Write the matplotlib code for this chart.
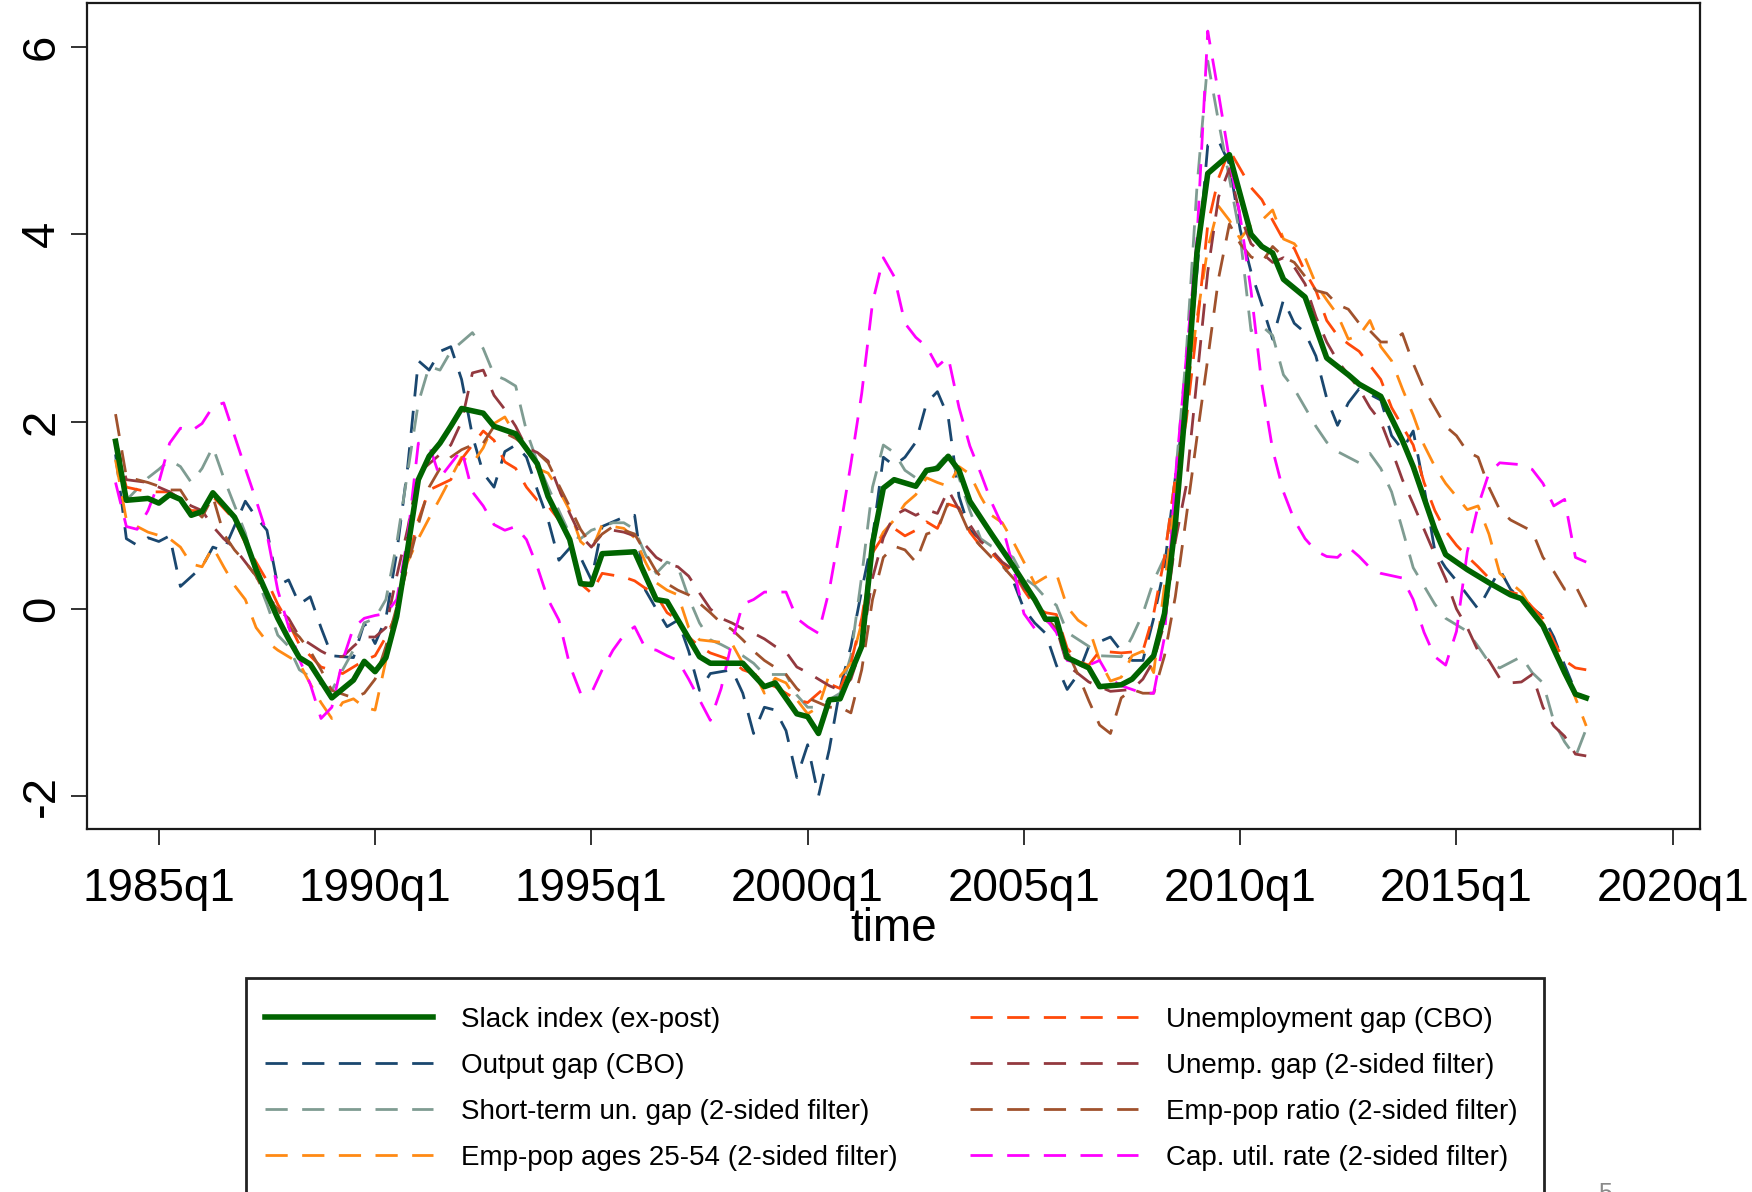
import matplotlib
matplotlib.use("Agg")
import matplotlib.pyplot as plt
from matplotlib.patches import Rectangle

plt.rcParams["font.family"] = ["Liberation Sans", "DejaVu Sans"]

# ── data (quarterly dates as fractional years) ──
slack_t = [1984.0, 1984.25, 1984.75, 1985.0, 1985.25, 1985.5, 1985.75, 1986.0, 1986.25, 1986.75,
           1987.0, 1987.25, 1987.75, 1988.0, 1988.25, 1988.5, 1989.0, 1989.5, 1989.75, 1990.0,
           1990.25, 1990.5, 1990.75, 1991.0, 1991.25, 1991.5, 1991.75, 1992.0, 1992.5, 1992.75,
           1993.25, 1993.75, 1994.0, 1994.5, 1994.75, 1995.0, 1995.25, 1996.0, 1996.5, 1996.75,
           1997.5, 1997.75, 1998.5, 1999.0, 1999.25, 1999.75, 2000.0, 2000.25, 2000.5, 2000.75,
           2001.25, 2001.5, 2001.75, 2002.0, 2002.5, 2002.75, 2003.0, 2003.25, 2003.5, 2003.75,
           2004.25, 2004.75, 2005.25, 2005.5, 2005.75, 2006.0, 2006.5, 2006.75, 2007.25, 2007.5,
           2008.0, 2008.25, 2008.5, 2008.75, 2009.0, 2009.25, 2009.75, 2010.25, 2010.5, 2010.75,
           2011.0, 2011.5, 2012.0, 2012.5, 2012.75, 2013.25, 2013.75, 2014.0, 2014.5, 2014.75,
           2015.25, 2015.75, 2016.25, 2016.5, 2017.0, 2017.5, 2017.75, 2018.0]
slack = [1.79, 1.16, 1.18, 1.13, 1.22, 1.17, 1.00, 1.04, 1.24, 0.98,
         0.74, 0.42, -0.10, -0.32, -0.52, -0.59, -0.95, -0.76, -0.56, -0.67,
         -0.52, -0.08, 0.63, 1.38, 1.63, 1.77, 1.95, 2.14, 2.09, 1.95,
         1.87, 1.55, 1.20, 0.74, 0.27, 0.26, 0.59, 0.61, 0.10, 0.08,
         -0.51, -0.58, -0.58, -0.83, -0.79, -1.12, -1.15, -1.33, -0.97, -0.96,
         -0.40, 0.70, 1.29, 1.38, 1.31, 1.48, 1.50, 1.63, 1.48, 1.15,
         0.80, 0.46, 0.10, -0.11, -0.11, -0.52, -0.63, -0.83, -0.81, -0.75,
         -0.50, -0.05, 0.90, 2.25, 3.80, 4.65, 4.85, 4.00, 3.87, 3.80,
         3.52, 3.33, 2.68, 2.50, 2.40, 2.27, 1.80, 1.52, 0.85, 0.58,
         0.42, 0.28, 0.15, 0.11, -0.18, -0.68, -0.91, -0.95]

outgap_t = [1984.0, 1984.25, 1984.5, 1984.75, 1985.0, 1985.25, 1985.5, 1986.0, 1986.25, 1986.5,
            1987.0, 1987.25, 1987.5, 1987.75, 1988.0, 1988.25, 1988.5, 1988.75, 1989.0, 1989.5,
            1989.75, 1990.0, 1990.25, 1990.5, 1990.75, 1991.0, 1991.25, 1991.5, 1991.75, 1992.0,
            1992.25, 1992.5, 1992.75, 1993.0, 1993.25, 1993.5, 1993.75, 1994.0, 1994.25, 1994.5,
            1994.75, 1995.0, 1995.25, 1995.75, 1996.0, 1996.25, 1996.5, 1996.75, 1997.0, 1997.25,
            1997.5, 1997.75, 1998.25, 1998.5, 1998.75, 1999.0, 1999.25, 1999.5, 1999.75, 2000.0,
            2000.25, 2000.5, 2000.75, 2001.0, 2001.25, 2001.5, 2001.75, 2002.0, 2002.25, 2002.5,
            2002.75, 2003.0, 2003.25, 2003.5, 2003.75, 2004.0, 2004.5, 2004.75, 2005.0, 2005.25,
            2005.5, 2005.75, 2006.0, 2006.25, 2006.5, 2006.75, 2007.0, 2007.25, 2007.5, 2007.75,
            2008.0, 2008.25, 2008.5, 2008.75, 2009.0, 2009.25, 2009.5, 2009.75, 2010.0, 2010.25,
            2010.5, 2010.75, 2011.0, 2011.25, 2011.5, 2011.75, 2012.0, 2012.25, 2012.5, 2012.75,
            2013.25, 2013.5, 2013.75, 2014.0, 2014.25, 2014.5, 2014.75, 2015.0, 2015.25, 2015.5,
            2016.0, 2016.25, 2016.5, 2017.0, 2017.25, 2017.5, 2017.75, 2018.0]
outgap = [1.65, 0.75, 0.68, 0.76, 0.72, 0.78, 0.24, 0.45, 0.66, 0.62,
          1.15, 0.98, 0.84, 0.25, 0.31, 0.05, 0.13, -0.20, -0.50, -0.52,
          -0.15, -0.37, -0.10, 0.60, 1.50, 2.65, 2.55, 2.75, 2.80, 2.45,
          1.85, 1.45, 1.30, 1.68, 1.75, 1.62, 1.27, 0.95, 0.52, 0.65,
          0.55, 0.31, 0.88, 0.98, 1.00, 0.20, 0.00, -0.19, -0.12, -0.45,
          -0.87, -0.69, -0.65, -0.90, -1.33, -1.05, -1.08, -1.30, -1.80, -1.45,
          -2.00, -1.50, -0.85, -0.40, 0.20, 0.76, 1.62, 1.53, 1.62, 1.78,
          2.20, 2.32, 2.05, 1.20, 0.84, 0.74, 0.48, 0.30, 0.00, -0.15,
          -0.26, -0.60, -0.86, -0.70, -0.40, -0.35, -0.30, -0.45, -0.55, -0.55,
          -0.10, 0.45, 1.40, 2.30, 3.60, 4.95, 5.00, 4.75, 4.05, 3.60,
          3.25, 2.88, 3.30, 3.05, 2.95, 2.70, 2.25, 1.96, 2.20, 2.35,
          2.23, 1.85, 1.70, 1.90, 1.30, 0.62, 0.44, 0.30, 0.15, 0.00,
          0.42, 0.21, 0.10, -0.08, -0.30, -0.60, -0.88, -0.96]

shortun_t = [1984.0, 1984.25, 1984.75, 1985.0, 1985.25, 1985.5, 1985.75, 1986.0, 1986.25, 1986.5,
             1987.0, 1987.25, 1987.5, 1987.75, 1988.0, 1988.25, 1988.75, 1989.0, 1989.25, 1989.5,
             1989.75, 1990.0, 1990.25, 1990.5, 1990.75, 1991.0, 1991.25, 1991.5, 1991.75, 1992.0,
             1992.25, 1992.5, 1992.75, 1993.0, 1993.25, 1993.5, 1993.75, 1994.0, 1994.25, 1994.5,
             1994.75, 1995.0, 1995.5, 1995.75, 1996.0, 1996.25, 1996.5, 1996.75, 1997.0, 1997.25,
             1997.5, 1997.75, 1998.0, 1998.25, 1998.5, 1998.75, 1999.0, 1999.5, 1999.75, 2000.0,
             2000.25, 2000.5, 2000.75, 2001.0, 2001.25, 2001.5, 2001.75, 2002.0, 2002.25, 2002.5,
             2002.75, 2003.0, 2003.25, 2003.5, 2003.75, 2004.0, 2004.25, 2004.5, 2004.75, 2005.0,
             2005.25, 2005.5, 2005.75, 2006.0, 2006.5, 2006.75, 2007.25, 2007.5, 2007.75, 2008.0,
             2008.25, 2008.5, 2008.75, 2009.0, 2009.25, 2009.5, 2009.75, 2010.0, 2010.25, 2010.5,
             2010.75, 2011.0, 2011.25, 2011.5, 2011.75, 2012.0, 2012.25, 2012.5, 2012.75, 2013.0,
             2013.25, 2013.5, 2013.75, 2014.0, 2014.5, 2014.75, 2015.25, 2015.5, 2015.75, 2016.0,
             2016.25, 2016.5, 2016.75, 2017.0, 2017.25, 2017.5, 2017.75, 2018.0]
shortun = [1.60, 1.16, 1.40, 1.49, 1.59, 1.52, 1.35, 1.50, 1.73, 1.40,
           0.81, 0.35, 0.05, -0.28, -0.40, -0.65, -0.80, -0.87, -0.65, -0.44,
           -0.15, -0.10, 0.10, 0.70, 1.45, 2.20, 2.59, 2.55, 2.75, 2.85,
           2.95, 2.78, 2.50, 2.45, 2.38, 1.90, 1.57, 1.30, 1.05, 0.80,
           0.75, 0.84, 0.92, 0.92, 0.85, 0.58, 0.38, 0.50, 0.45, 0.12,
           -0.15, -0.33, -0.38, -0.44, -0.50, -0.58, -0.70, -0.70, -0.92, -1.05,
           -1.05, -0.97, -0.90, -0.50, 0.35, 1.30, 1.75, 1.67, 1.48, 1.40,
           1.45, 1.53, 1.66, 1.40, 1.05, 0.75, 0.67, 0.62, 0.55, 0.33,
           0.25, 0.12, 0.04, -0.25, -0.40, -0.50, -0.51, -0.30, -0.05, 0.30,
           0.55, 1.40, 2.70, 4.50, 5.85, 5.20, 4.60, 3.98, 2.97, 3.02,
           2.92, 2.50, 2.35, 2.15, 1.95, 1.78, 1.68, 1.62, 1.56, 1.66,
           1.50, 1.25, 0.85, 0.44, 0.05, -0.10, -0.24, -0.40, -0.57, -0.63,
           -0.57, -0.51, -0.68, -0.79, -1.20, -1.42, -1.58, -1.28]

ep2554_t = [1984.0, 1984.25, 1984.5, 1984.75, 1985.25, 1985.5, 1985.75, 1986.0, 1986.25, 1986.5,
            1986.75, 1987.0, 1987.25, 1987.5, 1987.75, 1988.0, 1988.25, 1988.5, 1988.75, 1989.0,
            1989.25, 1989.5, 1989.75, 1990.0, 1990.25, 1990.5, 1990.75, 1991.0, 1991.25, 1991.5,
            1991.75, 1992.0, 1992.25, 1992.5, 1992.75, 1993.0, 1993.25, 1993.5, 1993.75, 1994.0,
            1994.25, 1994.5, 1994.75, 1995.0, 1995.25, 1995.5, 1995.75, 1996.0, 1996.25, 1996.5,
            1996.75, 1997.0, 1997.25, 1997.5, 1998.25, 1998.5, 1998.75, 1999.0, 1999.25, 1999.5,
            1999.75, 2000.0, 2000.25, 2000.5, 2000.75, 2001.0, 2001.25, 2001.5, 2001.75, 2002.0,
            2002.25, 2002.5, 2002.75, 2003.0, 2003.25, 2003.5, 2003.75, 2004.0, 2004.25, 2004.5,
            2004.75, 2005.0, 2005.25, 2005.5, 2005.75, 2006.0, 2006.25, 2006.5, 2006.75, 2007.0,
            2007.25, 2007.5, 2007.75, 2008.0, 2008.25, 2008.5, 2008.75, 2009.0, 2009.25, 2009.5,
            2009.75, 2010.0, 2010.25, 2010.5, 2010.75, 2011.0, 2011.25, 2011.5, 2011.75, 2012.0,
            2012.25, 2012.5, 2012.75, 2013.0, 2013.25, 2013.5, 2013.75, 2014.0, 2014.25, 2014.5,
            2014.75, 2015.0, 2015.25, 2015.5, 2015.75, 2016.0, 2016.25, 2016.5, 2016.75, 2017.0,
            2017.25, 2017.5, 2017.75, 2018.0]
ep2554 = [1.59, 0.95, 0.88, 0.82, 0.75, 0.66, 0.48, 0.45, 0.66, 0.45,
          0.25, 0.10, -0.20, -0.35, -0.44, -0.51, -0.58, -0.80, -1.00, -1.17,
          -1.00, -0.96, -1.05, -1.08, -0.55, 0.05, 0.50, 0.75, 0.97, 1.18,
          1.40, 1.62, 1.55, 1.72, 1.98, 2.05, 1.85, 1.72, 1.50, 1.45,
          1.27, 1.05, 0.72, 0.62, 0.90, 0.88, 0.86, 0.76, 0.50, 0.28,
          0.20, 0.15, -0.20, -0.33, -0.37, -0.58, -0.66, -0.90, -0.74, -0.79,
          -0.97, -1.12, -1.05, -0.70, -0.72, -0.58, -0.15, 0.60, 0.82, 0.95,
          1.12, 1.22, 1.40, 1.35, 1.31, 1.52, 1.44, 1.20, 1.00, 0.92,
          0.72, 0.50, 0.27, 0.34, 0.38, 0.02, -0.12, -0.20, -0.55, -0.77,
          -0.73, -0.50, -0.45, -0.68, 0.25, 1.20, 2.25, 3.10, 3.85, 4.30,
          4.15, 3.95, 4.10, 4.15, 4.26, 3.95, 3.90, 3.75, 3.47, 3.30,
          3.14, 2.88, 2.92, 3.08, 2.80, 2.65, 2.35, 2.07, 1.75, 1.52,
          1.34, 1.20, 1.06, 1.10, 0.80, 0.38, 0.28, 0.18, 0.00, -0.15,
          -0.40, -0.65, -0.95, -1.25]

unemp_cbo_t = [1984.0, 1984.25, 1984.75, 1985.25, 1985.75, 1986.0, 1986.25, 1986.75, 1987.0, 1987.5,
               1987.75, 1988.0, 1988.25, 1988.75, 1989.25, 1989.75, 1990.0, 1990.25, 1990.5, 1990.75,
               1991.0, 1991.25, 1991.75, 1992.0, 1992.25, 1992.5, 1992.75, 1993.0, 1993.25, 1993.5,
               1993.75, 1994.0, 1994.25, 1994.5, 1994.75, 1995.0, 1995.25, 1995.75, 1996.0, 1996.25,
               1996.5, 1996.75, 1997.0, 1997.25, 1997.5, 1997.75, 1998.25, 1998.5, 1998.75, 1999.0,
               1999.25, 1999.75, 2000.0, 2000.5, 2000.75, 2001.0, 2001.25, 2001.5, 2001.75, 2002.0,
               2002.25, 2002.5, 2002.75, 2003.0, 2003.25, 2003.5, 2003.75, 2004.0, 2004.25, 2004.5,
               2004.75, 2005.0, 2005.25, 2005.5, 2005.75, 2006.0, 2006.25, 2006.5, 2006.75, 2007.25,
               2007.75, 2008.0, 2008.25, 2008.5, 2008.75, 2009.0, 2009.25, 2009.5, 2009.75, 2010.0,
               2010.25, 2010.5, 2010.75, 2011.0, 2011.25, 2011.5, 2011.75, 2012.0, 2012.25, 2012.5,
               2012.75, 2013.0, 2013.25, 2013.5, 2013.75, 2014.0, 2014.25, 2014.5, 2014.75, 2015.0,
               2015.25, 2015.5, 2015.75, 2016.0, 2016.5, 2016.75, 2017.0, 2017.25, 2017.5, 2017.75,
               2018.0]
unemp_cbo = [1.75, 1.30, 1.25, 1.25, 1.05, 1.05, 1.20, 0.95, 0.70, 0.30,
             0.05, -0.15, -0.38, -0.62, -0.69, -0.55, -0.50, -0.30, -0.05, 0.50,
             0.95, 1.27, 1.38, 1.60, 1.75, 1.90, 1.80, 1.57, 1.50, 1.30,
             1.16, 1.10, 0.95, 0.75, 0.27, 0.17, 0.38, 0.34, 0.30, 0.22,
             0.15, -0.04, -0.12, -0.30, -0.40, -0.47, -0.55, -0.65, -0.69, -0.79,
             -0.83, -0.97, -1.00, -0.80, -0.85, -0.58, -0.10, 0.60, 0.78, 0.86,
             0.78, 0.84, 0.93, 0.86, 1.12, 1.08, 0.82, 0.67, 0.60, 0.48,
             0.40, 0.20, 0.03, -0.04, -0.06, -0.42, -0.56, -0.60, -0.45, -0.47,
             -0.45, -0.05, 0.55, 1.40, 2.00, 3.00, 4.10, 4.60, 4.90, 4.70,
             4.50, 4.37, 4.15, 3.94, 3.85, 3.60, 3.40, 3.08, 2.92, 2.83,
             2.75, 2.60, 2.45, 2.15, 1.95, 1.75, 1.35, 1.05, 0.83, 0.68,
             0.56, 0.45, 0.33, 0.21, 0.15, 0.02, -0.10, -0.35, -0.55, -0.63,
             -0.65]

unemp2_t = [1984.0, 1984.25, 1984.75, 1985.25, 1985.75, 1986.0, 1986.25, 1986.5, 1986.75, 1987.0,
            1987.25, 1987.5, 1987.75, 1988.0, 1988.25, 1988.75, 1989.0, 1989.25, 1989.5, 1989.75,
            1990.0, 1990.25, 1990.5, 1990.75, 1991.0, 1991.25, 1991.5, 1991.75, 1992.0, 1992.25,
            1992.5, 1992.75, 1993.0, 1993.25, 1993.5, 1993.75, 1994.0, 1994.25, 1994.5, 1994.75,
            1995.0, 1995.25, 1995.5, 1995.75, 1996.0, 1996.25, 1996.5, 1996.75, 1997.0, 1997.25,
            1997.5, 1997.75, 1998.0, 1998.25, 1998.5, 1998.75, 1999.0, 1999.25, 1999.5, 1999.75,
            2000.0, 2000.25, 2000.5, 2000.75, 2001.0, 2001.25, 2001.5, 2001.75, 2002.0, 2002.25,
            2002.5, 2002.75, 2003.0, 2003.25, 2003.5, 2003.75, 2004.0, 2004.25, 2004.5, 2004.75,
            2005.0, 2005.25, 2005.5, 2005.75, 2006.0, 2006.5, 2007.0, 2007.5, 2007.75, 2008.0,
            2008.25, 2008.5, 2008.75, 2009.0, 2009.25, 2009.5, 2009.75, 2010.0, 2010.25, 2010.5,
            2010.75, 2011.0, 2011.25, 2011.5, 2011.75, 2012.0, 2012.25, 2012.5, 2012.75, 2013.0,
            2013.25, 2013.5, 2013.75, 2014.0, 2014.25, 2014.5, 2014.75, 2015.0, 2015.25, 2015.5,
            2015.75, 2016.0, 2016.25, 2016.5, 2016.75, 2017.0, 2017.25, 2017.5, 2017.75, 2018.0]
unemp2 = [1.80, 1.38, 1.35, 1.25, 1.10, 1.05, 0.88, 0.75, 0.65, 0.50,
          0.35, 0.15, 0.00, -0.10, -0.30, -0.45, -0.51, -0.51, -0.40, -0.30,
          -0.30, -0.20, 0.35, 0.85, 1.45, 1.55, 1.65, 1.75, 2.00, 2.52,
          2.55, 2.28, 2.13, 1.95, 1.72, 1.67, 1.58, 1.28, 1.02, 0.78,
          0.66, 0.80, 0.84, 0.82, 0.78, 0.68, 0.55, 0.48, 0.45, 0.35,
          0.17, 0.00, -0.10, -0.15, -0.21, -0.26, -0.32, -0.40, -0.46, -0.62,
          -0.68, -0.75, -0.82, -0.87, -0.75, -0.40, 0.33, 0.76, 1.00, 1.06,
          1.00, 1.06, 1.02, 1.27, 1.06, 0.90, 0.72, 0.63, 0.50, 0.42,
          0.22, 0.13, -0.12, -0.20, -0.60, -0.78, -0.88, -0.86, -0.75, -0.55,
          -0.15, 0.72, 1.31, 2.45, 3.60, 4.40, 4.70, 4.20, 3.90, 3.80,
          3.70, 3.75, 3.65, 3.47, 3.12, 2.85, 2.65, 2.50, 2.35, 2.15,
          2.00, 1.70, 1.38, 1.12, 0.85, 0.58, 0.32, 0.00, -0.20, -0.45,
          -0.55, -0.74, -0.79, -0.78, -0.70, -1.05, -1.25, -1.36, -1.55, -1.57]

epratio_t = [1984.0, 1984.25, 1984.5, 1984.75, 1985.25, 1985.5, 1985.75, 1986.0, 1986.25, 1986.5,
             1986.75, 1987.0, 1987.25, 1987.5, 1987.75, 1988.0, 1988.25, 1988.5, 1988.75, 1989.0,
             1989.5, 1989.75, 1990.0, 1990.25, 1990.5, 1990.75, 1991.0, 1991.25, 1991.5, 1991.75,
             1992.0, 1992.25, 1992.5, 1992.75, 1993.0, 1993.25, 1993.5, 1993.75, 1994.0, 1994.25,
             1994.5, 1994.75, 1995.0, 1995.25, 1995.5, 1995.75, 1996.0, 1996.25, 1996.5, 1996.75,
             1997.0, 1997.25, 1997.5, 1997.75, 1998.0, 1998.25, 1998.5, 1998.75, 1999.0, 1999.5,
             1999.75, 2000.0, 2000.25, 2000.5, 2000.75, 2001.0, 2001.25, 2001.5, 2001.75, 2002.0,
             2002.25, 2002.5, 2002.75, 2003.0, 2003.25, 2003.5, 2003.75, 2004.0, 2004.25, 2004.5,
             2004.75, 2005.0, 2005.25, 2005.5, 2005.75, 2006.0, 2006.25, 2006.5, 2006.75, 2007.0,
             2007.25, 2007.5, 2007.75, 2008.0, 2008.25, 2008.5, 2008.75, 2009.0, 2009.25, 2009.5,
             2009.75, 2010.0, 2010.25, 2010.5, 2010.75, 2011.0, 2011.25, 2011.5, 2011.75, 2012.0,
             2012.25, 2012.5, 2012.75, 2013.0, 2013.25, 2013.5, 2013.75, 2014.0, 2014.25, 2014.5,
             2014.75, 2015.0, 2015.25, 2015.5, 2015.75, 2016.0, 2016.25, 2016.5, 2016.75, 2017.0,
             2017.25, 2017.5, 2017.75, 2018.0]
epratio = [2.08, 1.41, 1.38, 1.35, 1.27, 1.27, 1.09, 0.98, 1.20, 0.80,
           0.63, 0.50, 0.35, 0.12, 0.00, -0.19, -0.30, -0.45, -0.65, -0.87,
           -0.95, -0.90, -0.75, -0.40, 0.02, 0.45, 0.90, 1.30, 1.50, 1.62,
           1.70, 1.75, 1.77, 1.95, 1.88, 1.82, 1.73, 1.67, 1.56, 1.32,
           1.09, 0.85, 0.68, 0.80, 0.88, 0.84, 0.80, 0.60, 0.40, 0.27,
           0.20, 0.15, 0.06, -0.04, -0.15, -0.22, -0.33, -0.45, -0.55, -0.70,
           -0.85, -0.95, -1.00, -1.05, -1.05, -1.11, -0.65, 0.10, 0.55, 0.67,
           0.63, 0.50, 0.80, 0.84, 1.14, 1.06, 0.80, 0.67, 0.55, 0.46,
           0.33, 0.20, 0.09, -0.09, -0.21, -0.45, -0.70, -0.98, -1.24, -1.33,
           -0.95, -0.86, -0.90, -0.90, -0.50, 0.13, 0.97, 1.83, 2.67, 3.53,
           4.11, 3.90, 3.76, 3.70, 3.87, 3.76, 3.70, 3.55, 3.40, 3.37,
           3.25, 3.20, 3.05, 2.97, 2.85, 2.85, 2.94, 2.62, 2.35, 2.15,
           1.95, 1.85, 1.68, 1.62, 1.30, 1.06, 0.95, 0.89, 0.83, 0.55,
           0.40, 0.21, 0.25, 0.02]

caputil_t = [1984.0, 1984.25, 1984.5, 1984.75, 1985.0, 1985.25, 1985.5, 1985.75, 1986.0, 1986.25,
             1986.5, 1986.75, 1987.0, 1987.25, 1987.5, 1987.75, 1988.0, 1988.25, 1988.5, 1988.75,
             1989.0, 1989.25, 1989.5, 1989.75, 1990.0, 1990.25, 1990.5, 1990.75, 1991.0, 1991.25,
             1991.5, 1991.75, 1992.0, 1992.25, 1992.5, 1992.75, 1993.0, 1993.25, 1993.5, 1993.75,
             1994.0, 1994.25, 1994.5, 1994.75, 1995.0, 1995.25, 1995.5, 1995.75, 1996.0, 1996.25,
             1996.5, 1996.75, 1997.0, 1997.25, 1997.5, 1997.75, 1998.0, 1998.25, 1998.5, 1998.75,
             1999.0, 1999.5, 1999.75, 2000.0, 2000.25, 2000.5, 2000.75, 2001.0, 2001.25, 2001.5,
             2001.75, 2002.0, 2002.25, 2002.5, 2002.75, 2003.0, 2003.25, 2003.5, 2003.75, 2004.0,
             2004.25, 2004.5, 2004.75, 2005.0, 2005.25, 2005.5, 2005.75, 2006.0, 2006.5, 2006.75,
             2007.0, 2007.25, 2007.5, 2007.75, 2008.0, 2008.25, 2008.5, 2008.75, 2009.0, 2009.25,
             2009.5, 2009.75, 2010.0, 2010.25, 2010.5, 2010.75, 2011.0, 2011.25, 2011.5, 2011.75,
             2012.0, 2012.25, 2012.5, 2012.75, 2013.0, 2013.25, 2013.75, 2014.0, 2014.25, 2014.5,
             2014.75, 2015.0, 2015.25, 2015.5, 2015.75, 2016.0, 2016.5, 2016.75, 2017.0, 2017.25,
             2017.5, 2017.75, 2018.0]
caputil = [1.35, 0.88, 0.85, 1.05, 1.35, 1.77, 1.93, 1.90, 1.98, 2.16,
           2.20, 1.85, 1.50, 1.16, 0.80, 0.20, -0.19, -0.54, -0.80, -1.17,
           -1.05, -0.55, -0.20, -0.10, -0.07, -0.05, 0.10, 0.75, 1.77, 1.75,
           1.40, 1.55, 1.70, 1.25, 1.10, 0.90, 0.84, 0.88, 0.74, 0.45,
           0.10, -0.12, -0.60, -0.90, -0.90, -0.65, -0.44, -0.28, -0.19, -0.42,
           -0.44, -0.50, -0.55, -0.75, -0.97, -1.19, -0.85, -0.35, 0.05, 0.10,
           0.18, 0.18, -0.10, -0.19, -0.26, 0.20, 0.85, 1.55, 2.30, 3.27,
           3.75, 3.55, 3.05, 2.90, 2.80, 2.59, 2.69, 2.15, 1.74, 1.45,
           1.14, 0.89, 0.45, -0.05, -0.21, -0.10, -0.25, -0.55, -0.60, -0.55,
           -0.75, -0.82, -0.86, -0.90, -0.90, -0.30, 1.40, 2.67, 3.94, 6.17,
           5.50, 4.80, 4.19, 3.40, 2.40, 1.70, 1.25, 0.95, 0.75, 0.62,
           0.56, 0.55, 0.66, 0.56, 0.44, 0.38, 0.33, 0.10, -0.25, -0.51,
           -0.60, -0.24, 0.61, 1.10, 1.45, 1.56, 1.54, 1.49, 1.34, 1.10,
           1.17, 0.55, 0.50]

x_ticks = [1985, 1990, 1995, 2000, 2005, 2010, 2015, 2020]
x_ticklabels = ["1985q1", "1990q1", "1995q1", "2000q1", "2005q1", "2010q1", "2015q1", "2020q1"]
y_ticks = [-2, 0, 2, 4, 6]

# ── figure ────────────────────────────────────────────
W, H = 1752, 1192
fig = plt.figure(figsize=(W / 100, H / 100), dpi=100)
fig.patch.set_facecolor("white")
ax = fig.add_axes([87 / W, 1 - 829 / H, (1700 - 87) / W, (829 - 3) / H])

DASH = (0, (8, 5.2))
LW = 2.0
series = [
    (outgap_t, outgap, "#1a476f", "Output gap (CBO)"),
    (shortun_t, shortun, "#7f9c92", "Short-term un. gap (2-sided filter)"),
    (ep2554_t, ep2554, "#ff8a14", "Emp-pop ages 25-54 (2-sided filter)"),
    (unemp_cbo_t, unemp_cbo, "#ff4a0a", "Unemployment gap (CBO)"),
    (unemp2_t, unemp2, "#93393f", "Unemp. gap (2-sided filter)"),
    (epratio_t, epratio, "#a0522d", "Emp-pop ratio (2-sided filter)"),
    (caputil_t, caputil, "#ff00ff", "Cap. util. rate (2-sided filter)"),
]
handles = []
for t, v, c, lab in series:
    ln, = ax.plot(t, v, color=c, lw=LW, ls=DASH, label=lab, zorder=2)
    handles.append(ln)
slack_ln, = ax.plot(slack_t, slack, color="#006400", lw=4.0, label="Slack index (ex-post)",
                    zorder=5, solid_joinstyle="round")

ax.set_xlim(1983.34, 2020.63)
ax.set_ylim(-2.35, 6.47)
ax.set_xticks(x_ticks)
ax.set_xticklabels(x_ticklabels)
ax.set_yticks(y_ticks)
ax.set_yticklabels([str(v) for v in y_ticks], rotation=90, va="center")
ax.tick_params(axis="both", direction="out", length=11.5, width=1.3, color="#222222",
               labelsize=33)
ax.tick_params(axis="x", pad=16)
ax.tick_params(axis="y", pad=5, labelsize=34)
for sp in ax.spines.values():
    sp.set_linewidth(1.6)
    sp.set_color("#1a1a1a")
ax.set_xlabel("time", fontsize=33, labelpad=-3)

# ── legend: entries column-major, box drawn separately so it runs off the bottom ──
order = [slack_ln] + handles
leg = fig.legend(order, [h.get_label() for h in order], ncol=2, loc="upper left",
                 bbox_to_anchor=(265 / W, 1 - 1007 / H), borderaxespad=0, borderpad=0,
                 fontsize=20, frameon=False, handlelength=6.05, handletextpad=1.0,
                 columnspacing=2.6, labelspacing=0.72)
fig.add_artist(Rectangle((246 / W, -0.05), (1544 - 246) / W, 0.05 + 1 - 978 / H,
                         transform=fig.transFigure, fill=False, lw=2.0,
                         edgecolor="#222222"))

# clipped page number at the bottom edge
fig.text(1598 / W, 10 / H, "5", fontsize=18, color="#8a8a8a", va="top", ha="left")

fig.savefig("out.png", dpi=100)
